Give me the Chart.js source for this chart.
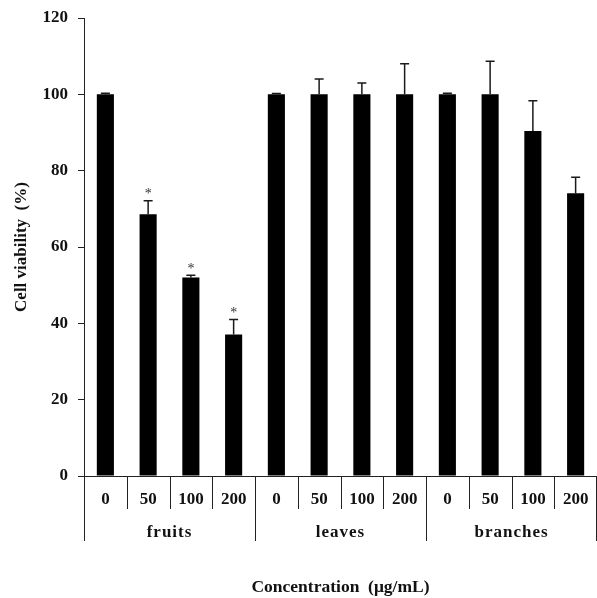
<!DOCTYPE html>
<html>
<head>
<meta charset="utf-8">
<script src="https://cdn.jsdelivr.net/npm/chart.js@4/dist/chart.umd.min.js"></script>
<style>
  html, body { margin: 0; padding: 0; background: #fff; }
  #wrap { width: 597px; height: 598px; }
</style>
</head>
<body>
<div id="wrap"><canvas id="c" width="597" height="598"></canvas></div>
<script>
const concLabels = ['0', '50', '100', '200', '0', '50', '100', '200', '0', '50', '100', '200'];
const groupNames = ['fruits', 'leaves', 'branches'];
const groupSize = 4;
const viability = [100, 68.6, 52.0, 37.1, 100, 100, 100, 100, 100, 100, 90.4, 74.1];
const errorUp = [0.3, 3.5, 0.6, 3.9, 0.2, 4.0, 3.0, 8.0, 0.3, 8.7, 7.9, 4.2];
const significant = [false, true, true, true, false, false, false, false, false, false, false, false];
const yTicks = [0, 20, 40, 60, 80, 100, 120];

const FONT = "'Liberation Serif', 'Times New Roman', serif";

const decorPlugin = {
  id: 'decor',
  afterDatasetsDraw(chart) {
    const ctx = chart.ctx;
    const ys = chart.scales.y;
    const meta = chart.getDatasetMeta(0);
    ctx.save();
    ctx.strokeStyle = '#1a1a1a';
    ctx.lineWidth = 1.5;
    meta.data.forEach((bar, i) => {
      const x = bar.x;
      const yTop = ys.getPixelForValue(viability[i] + errorUp[i]);
      const yBar = ys.getPixelForValue(viability[i]);
      ctx.beginPath();
      ctx.moveTo(x, yBar);
      ctx.lineTo(x, yTop);
      ctx.moveTo(x - 4.5, yTop);
      ctx.lineTo(x + 4.5, yTop);
      ctx.stroke();
      if (significant[i]) {
        ctx.fillStyle = '#333';
        ctx.font = '14px ' + FONT;
        ctx.textAlign = 'center';
        ctx.textBaseline = 'middle';
        ctx.fillText('*', x, yTop - 6);
      }
    });
    ctx.restore();
  },
  afterDraw(chart) {
    const ctx = chart.ctx;
    const xs = chart.scales.x;
    const area = chart.chartArea;
    const n = concLabels.length;
    const step = xs.getPixelForValue(1) - xs.getPixelForValue(0);
    ctx.save();
    ctx.strokeStyle = '#222';
    ctx.lineWidth = 1;
    for (let i = 0; i <= n; i++) {
      let x = xs.getPixelForValue(i) - step / 2;
      x = Math.round(x) + 0.5;
      if (i === n) x = Math.min(x, chart.width - 0.5);
      const long = (i % groupSize === 0);
      ctx.beginPath();
      ctx.moveTo(x, area.bottom);
      ctx.lineTo(x, long ? area.bottom + 65 : area.bottom + 33);
      ctx.stroke();
    }
    ctx.fillStyle = '#111';
    ctx.font = 'bold 17px ' + FONT;
    ctx.textAlign = 'center';
    ctx.textBaseline = 'middle';
    try { ctx.letterSpacing = '1px'; } catch (e) {}
    groupNames.forEach((g, gi) => {
      const a = xs.getPixelForValue(gi * groupSize);
      const b = xs.getPixelForValue(gi * groupSize + groupSize - 1);
      ctx.fillText(g, (a + b) / 2, area.bottom + 57);
    });
    ctx.restore();
  }
};

new Chart(document.getElementById('c'), {
  type: 'bar',
  data: {
    labels: concLabels,
    datasets: [{
      data: viability,
      backgroundColor: '#000',
      borderWidth: 0,
      barPercentage: 0.4,
      categoryPercentage: 1.0
    }]
  },
  options: {
    responsive: false,
    animation: false,
    devicePixelRatio: 1,
    layout: { padding: { top: 18, right: 0, bottom: 0, left: 0 } },
    plugins: {
      legend: { display: false },
      tooltip: { enabled: false }
    },
    scales: {
      x: {
        offset: true,
        grid: { display: false, drawTicks: false },
        border: { display: true, color: '#222', width: 1 },
        ticks: {
          color: '#111',
          font: { family: FONT, size: 17, weight: 'bold' },
          padding: 13,
          maxRotation: 0,
          autoSkip: false
        },
        title: {
          display: true,
          text: 'Concentration  (μg/mL)',
          color: '#111',
          font: { family: FONT, size: 17.5, weight: 'bold' },
          padding: { top: 0, bottom: 0 }
        },
        afterFit(scale) {
          scale.height = 122;
          scale.paddingLeft = 0;
          scale.paddingRight = 0;
        }
      },
      y: {
        min: 0,
        max: 120,
        afterBuildTicks(scale) { scale.ticks = yTicks.map(v => ({ value: v })); },
        grid: { drawOnChartArea: false, drawTicks: true, tickLength: 6, color: '#222' },
        border: { display: true, color: '#222', width: 1 },
        ticks: {
          color: '#111',
          font: { family: FONT, size: 17, weight: 'bold' },
          padding: 10
        },
        title: {
          display: true,
          text: 'Cell viability  (%)',
          color: '#111',
          font: { family: FONT, size: 17, weight: 'bold' },
          padding: { top: 11, bottom: 0 }
        },
        afterFit(scale) {
          scale.width = 84;
          scale.paddingTop = 0;
          scale.paddingBottom = 0;
        }
      }
    }
  },
  plugins: [decorPlugin]
});
</script>
</body>
</html>
